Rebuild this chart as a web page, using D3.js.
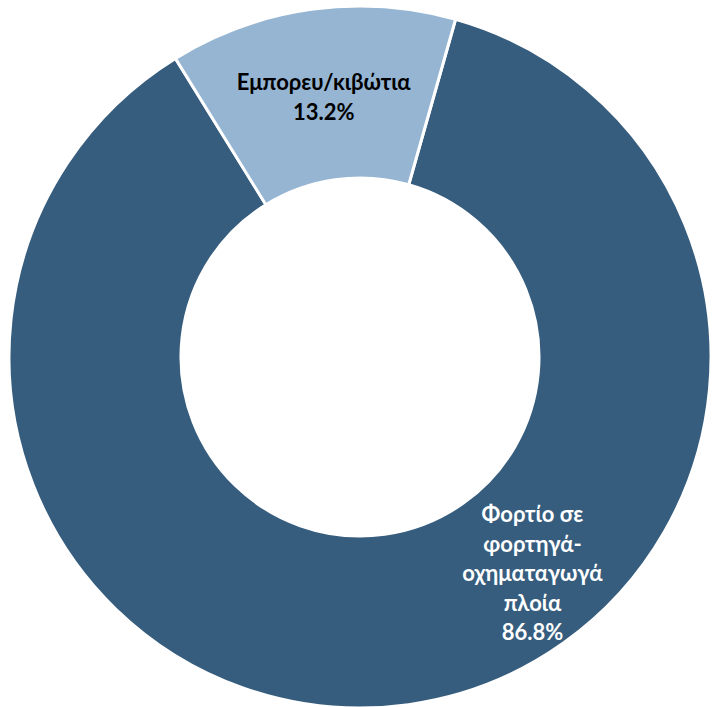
<!DOCTYPE html>
<html><head><meta charset="utf-8">
<script src="https://cdn.jsdelivr.net/npm/d3@7"></script>
<style>html,body{margin:0;padding:0;background:#fff;}svg{display:block;}</style>
</head><body>
<script>
const categories = ["Φορτίο σε φορτηγά-οχηματαγωγά πλοία", "Εμπορευ/κιβώτια"];
const labelLines = [["Φορτίο σε", "φορτηγά-", "οχηματαγωγά", "πλοία"], ["Εμπορευ/κιβώτια"]];
const values = [86.8, 13.2];
const colors = ["#365D7E", "#95B5D3"];
const textColors = ["#ffffff", "#000000"];

const W = 712, H = 707, cx = 360, cy = 357, rOut = 351, rIn = 179;
const svg = d3.select("body").append("svg").attr("width", W).attr("height", H);
const g = svg.append("g").attr("transform", `translate(${cx},${cy})`);

const start = 15.8 * Math.PI / 180;
const pie = d3.pie().sort(null).value(d => d).startAngle(start).endAngle(start + 2 * Math.PI);
const arcs = pie(values);
const arc = d3.arc().innerRadius(rIn).outerRadius(rOut);

g.selectAll("path").data(arcs).enter().append("path")
  .attr("d", arc).attr("fill", (d, i) => colors[i])
  .attr("stroke", "#fff").attr("stroke-width", 3);

const fmt = d3.format(".1f");
const labelPos = arcs.map((d, i) => {
  if (i === 0) {
    const a = 141.5 * Math.PI / 180, r = 277;
    return [r * Math.sin(a), -r * Math.cos(a)];
  }
  const a = (d.startAngle + d.endAngle) / 2, r = 262;
  return [r * Math.sin(a), -r * Math.cos(a)];
});
const lh = 29.5;
arcs.forEach((d, i) => {
  const lines = labelLines[i].concat([fmt(values[i]) + "%"]);
  const n = lines.length;
  const t = g.append("text")
    .attr("text-anchor", "middle")
    .attr("font-family", "Lato, 'Open Sans', sans-serif")
    .attr("font-weight", "bold").attr("font-size", 22)
    .attr("fill", textColors[i]);
  lines.forEach((s, k) => {
    t.append("tspan").attr("x", labelPos[i][0])
      .attr("y", labelPos[i][1] + (k - (n - 1) / 2) * lh)
      .attr("dy", "0.35em").text(s);
  });
});
</script>
</body></html>
